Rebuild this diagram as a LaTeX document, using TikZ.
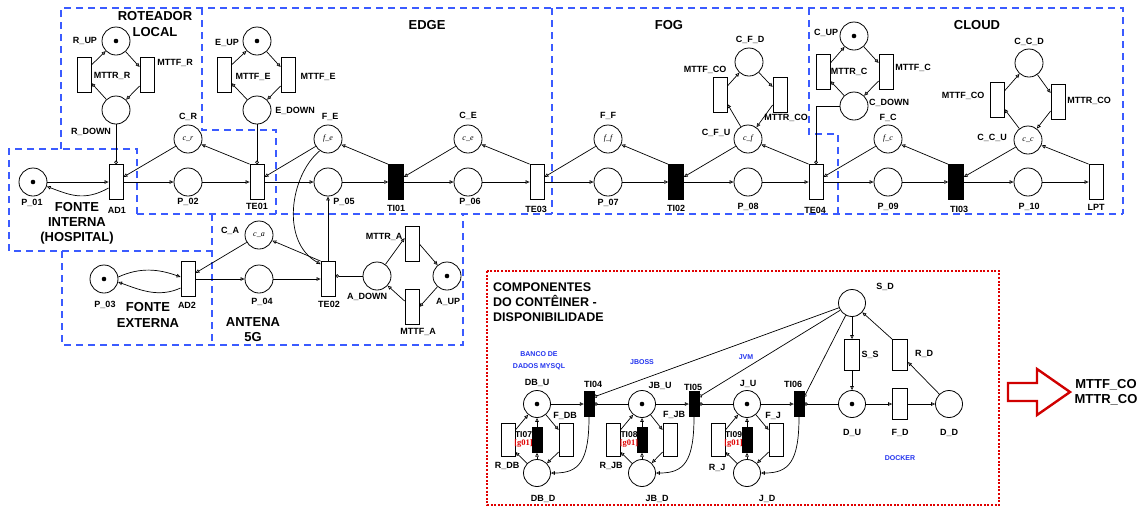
\documentclass[tikz,border=0pt]{standalone}
\usepackage{fontspec}
\setmainfont{Liberation Sans}
\newfontfamily\serifface{Liberation Serif}
\usetikzlibrary{arrows.meta,calc}
\definecolor{zoneblue}{HTML}{3B5BFF}
\definecolor{txtblue}{HTML}{2233EE}
\definecolor{boxred}{HTML}{E00000}
\definecolor{arrowred}{HTML}{D00000}
\begin{document}
\begin{tikzpicture}[x=1pt,y=-1pt,
 every node/.style={inner sep=0pt},
 place/.style={circle,draw,line width=0.8pt,minimum size=28pt},
 cplace/.style={circle,draw,line width=0.8pt,minimum size=27pt},
 trans/.style={rectangle,draw,line width=0.8pt,minimum width=14pt,minimum height=35pt},
 itrans/.style={rectangle,draw,fill=black,minimum width=15pt,minimum height=35pt},
 ctrans/.style={rectangle,draw,fill=black,minimum width=10pt,minimum height=25pt},
 crect/.style={rectangle,draw,line width=0.8pt,minimum width=14pt,minimum height=33pt},
 lbl/.style={font=\fontsize{9}{10}\selectfont\bfseries},
 ttl/.style={font=\fontsize{13}{15.5}\selectfont\bfseries,align=center},
 inner/.style={font=\serifface\itshape\fontsize{8}{9}\selectfont},
 blu/.style={font=\fontsize{7}{12}\selectfont\bfseries,text=txtblue,align=center},
 grd/.style={font=\serifface\bfseries\fontsize{8.5}{9}\selectfont,text=boxred},
 arc/.style={line width=0.7pt,-{Triangle[open,length=4pt,width=3.5pt]}},
 inh/.style={line width=0.7pt,-{Circle[open,length=3.5pt]}},
 zone/.style={draw=zoneblue,line width=1.5pt,dash pattern=on 7pt off 5pt},
]
\useasboundingbox (0,0) rectangle (1142,507);

% ---------------- zones ----------------
\draw[zone] (61,149) -- (61,8) -- (1123,8) -- (1123,214);
\draw[zone] (202,8) -- (202,130) -- (276,130) -- (276,214);
\draw[zone] (552,8) -- (552,214);
\draw[zone] (809,8) -- (809,134) -- (838,134) -- (838,214);
\draw[zone] (137,214) -- (137,149) -- (9,149) -- (9,251) -- (212,251);
\draw[zone] (137,214) -- (1123,214);
\draw[zone] (212,214) -- (212,345);
\draw[zone] (62,251) -- (62,345) -- (463,345) -- (463,214);
\draw[draw=boxred,line width=2pt,dash pattern=on 2pt off 1.6pt] (487,271) rectangle (999,505);

% ---------------- main row ----------------
\node[place] (P01) at (33,182) {};
\node[trans] (AD1) at (116,182) {};
\node[place] (P02) at (188,182) {};
\node[trans] (TE01) at (257,182) {};
\node[place,inner] (CR) at (188,139) {c\_r};
\node[place] (RUP) at (116,41) {};
\node[place] (RDOWN) at (116,110) {};
\node[trans] (MTTRR) at (84,75) {};
\node[trans] (MTTFR) at (147,75) {};
\node[place] (EUP) at (257,41) {};
\node[place] (EDOWN) at (257,110) {};
\node[trans] (MTTRE) at (224,75) {};
\node[trans] (MTTFE) at (288,75) {};
\node[place,inner] (FE) at (328,139) {f\_e};
\node[place] (P05) at (328,182) {};
\node[itrans] (TI01) at (396,182) {};
\node[place,inner] (CE) at (468,139) {c\_e};
\node[place] (P06) at (468,182) {};
\node[trans] (TE03) at (537,182) {};
\node[place] (P07) at (608,182) {};
\node[place,inner] (FF) at (608,139) {f\_f};
\node[itrans] (TI02) at (676,182) {};
\node[place] (P08) at (748,182) {};
\node[place,inner] (CFU) at (748,139) {c\_f};
\node[place] (CFD) at (749,62) {};
\node[trans] (MTTFCO1) at (720,95) {};
\node[trans] (MTTRCO1) at (780,95) {};
\node[trans] (TE04) at (816,182) {};
\node[place] (CUP) at (854,36) {};
\node[place] (CDOWN) at (854,106) {};
\node[trans] (MTTRC) at (823,72) {};
\node[trans] (MTTFC) at (886,72) {};
\node[place,inner] (FC) at (888,139) {f\_c};
\node[place] (P09) at (888,182) {};
\node[itrans] (TI03) at (956,182) {};
\node[place] (P10) at (1028,182) {};
\node[place,inner] (CCU) at (1028,140) {c\_c};
\node[place] (CCD) at (1029,63) {};
\node[trans] (MTTFCO2) at (997,100) {};
\node[trans] (MTTRCO2) at (1058,102) {};
\node[trans] (LPT) at (1096,182) {};

% ---------------- lower-left ----------------
\node[place] (P03) at (104,279) {};
\node[trans] (AD2) at (188,279) {};
\node[place] (P04) at (259,279) {};
\node[place,inner] (CA) at (259,235) {c\_a};
\node[trans] (TE02) at (328,279) {};
\node[place] (ADOWN) at (377,276) {};
\node[place] (AUP) at (447,276) {};
\node[trans] (MTTRA) at (412,244) {};
\node[trans] (MTTFA) at (412,307) {};

% ---------------- container ----------------
\node[cplace] (DBU) at (537,404) {};
\node[cplace] (DBD) at (537,473) {};
\node[crect] (RDB) at (508,440) {};
\node[crect] (FDB) at (566,440) {};
\node[ctrans] (TI07) at (537,440) {};
\node[ctrans] (TI04) at (589,404) {};
\node[cplace] (JBU) at (642,404) {};
\node[cplace] (JBD) at (642,473) {};
\node[crect] (RJB) at (613,440) {};
\node[crect] (FJB) at (670,440) {};
\node[ctrans] (TI08) at (642,440) {};
\node[ctrans] (TI05) at (694,404) {};
\node[cplace] (JU) at (747,404) {};
\node[cplace] (JD) at (747,473) {};
\node[crect] (RJ) at (718,440) {};
\node[crect] (FJ) at (776,440) {};
\node[ctrans] (TI09) at (747,440) {};
\node[ctrans] (TI06) at (799,404) {};
\node[cplace] (DU) at (852,404) {};
\node[crect,minimum width=15pt,minimum height=31pt] (FD) at (900,404) {};
\node[cplace] (DD) at (949,404) {};
\node[cplace] (SD) at (852,303) {};
\node[crect,minimum width=15pt,minimum height=31pt] (SS) at (852,355) {};
\node[crect,minimum width=15pt,minimum height=31pt] (RD) at (900,355) {};

% tokens
\foreach \n in {P01,RUP,EUP,CUP,P03,AUP,DBU,JBU,JU,DU} \fill (\n) circle (2.3);

% ---------------- arcs: top ----------------
\draw[arc] (RUP) -- ($(MTTFR.west)+(0,-8)$);
\draw[arc] ($(MTTFR.west)+(0,11)$) -- (RDOWN);
\draw[arc] (RDOWN) -- ($(MTTRR.east)+(0,8)$);
\draw[arc] ($(MTTRR.east)+(0,-10)$) -- (RUP);
\draw[arc] (EUP) -- ($(MTTFE.west)+(0,-8)$);
\draw[arc] ($(MTTFE.west)+(0,11)$) -- (EDOWN);
\draw[arc] (EDOWN) -- ($(MTTRE.east)+(0,8)$);
\draw[arc] ($(MTTRE.east)+(0,-10)$) -- (EUP);
\draw[inh] (RDOWN) -- (AD1);
\draw[inh] (EDOWN) -- (TE01);
\draw[inh] (CDOWN.west) -| (TE04.north);

\draw[arc] (P01) -- (AD1);
\draw[arc] ($(AD1.west)+(0,6)$) .. controls +(-25,14) and +(22,8) .. (P01.-18);
\draw[arc] (AD1) -- (P02);
\draw[arc] (P02) -- (TE01);
\draw[arc] (CR) -- ($(AD1.east)+(0,-5)$);
\draw[arc] (TE01.north west) -- (CR);
\draw[arc] (TE01) -- (P05);
\draw[arc] (FE) -- ($(TE01.east)+(0,-5)$);
\draw[arc] (P05) -- (TI01);
\draw[arc] (TI01.north west) -- (FE);
\draw[arc] (CE) -- ($(TI01.east)+(0,-5)$);
\draw[arc] (TI01) -- (P06);
\draw[arc] (P06) -- (TE03);
\draw[arc] (TE03.north west) -- (CE);
\draw[arc] (TE03) -- (P07);
\draw[arc] (FF) -- ($(TE03.east)+(0,-5)$);
\draw[arc] (P07) -- (TI02);
\draw[arc] (TI02.north west) -- (FF);
\draw[arc] (CFU) -- ($(TI02.east)+(0,-5)$);
\draw[arc] (TI02) -- (P08);
\draw[arc] (P08) -- (TE04);
\draw[arc] (TE04.north west) -- (CFU);
\draw[arc] (TE04) -- (P09);
\draw[arc] (FC) -- ($(TE04.east)+(0,-5)$);
\draw[arc] (P09) -- (TI03);
\draw[arc] (TI03.north west) -- (FC);
\draw[arc] (CCU) -- ($(TI03.east)+(0,-5)$);
\draw[arc] (TI03) -- (P10);
\draw[arc] (P10) -- (LPT);
\draw[arc] (LPT.north west) -- (CCU);

\draw[arc] (CFU) -- ($(MTTFCO1.east)+(0,9)$);
\draw[arc] ($(MTTFCO1.east)+(0,-9)$) -- (CFD);
\draw[arc] (CFD) -- ($(MTTRCO1.west)+(0,-8)$);
\draw[arc] ($(MTTRCO1.west)+(0,10)$) -- (CFU);
\draw[arc] (CUP) -- ($(MTTFC.west)+(0,-9)$);
\draw[arc] ($(MTTFC.west)+(0,9)$) -- (CDOWN);
\draw[arc] (CDOWN) -- ($(MTTRC.east)+(0,9)$);
\draw[arc] ($(MTTRC.east)+(0,-9)$) -- (CUP);
\draw[arc] (CCU) -- ($(MTTFCO2.east)+(0,9)$);
\draw[arc] ($(MTTFCO2.east)+(0,-9)$) -- (CCD);
\draw[arc] (CCD) -- ($(MTTRCO2.west)+(0,-9)$);
\draw[arc] ($(MTTRCO2.west)+(0,9)$) -- (CCU);

% ---------------- arcs: lower-left ----------------
\draw[arc] (P03.8) .. controls +(22,-10) and +(-22,-8) .. ($(AD2.west)+(0,-2)$);
\draw[arc] ($(AD2.west)+(0,9)$) .. controls +(-22,10) and +(22,8) .. (P03.-12);
\draw[arc] (AD2) -- (P04);
\draw[arc] (CA) -- ($(AD2.east)+(0,-6)$);
\draw[arc] (P04) -- (TE02);
\draw[arc] (TE02.north west) -- (CA);
\draw[arc] (TE02) -- (P05);
\draw[arc] (FE.235) .. controls +(-30,25) and +(-40,-22) .. ($(TE02.north west)+(0,3)$);
\draw[inh] (ADOWN) -- (ADOWN -| TE02.east);
\draw[arc] (ADOWN) -- ($(MTTRA.west)+(0,-6)$);
\draw[arc] (MTTRA.east) -- (AUP);
\draw[arc] (AUP) -- (MTTFA.east);
\draw[arc] ($(MTTFA.west)+(0,-6)$) -- (ADOWN);

% ---------------- arcs: container ----------------
\draw[arc] (DBU) -- (TI04);
\draw[inh] (JBU) -- (TI04);
\draw[inh] (SD) -- ($(TI04.north east)+(0,5.5)$);
\draw[arc] (TI04.south) .. controls +(0,45) and +(28,0) .. (DBD.east);
\draw[arc] (DBU) -- ($(FDB.west)+(0,-10)$);
\draw[arc] ($(FDB.west)+(0,12)$) -- (DBD);
\draw[arc] (DBD) -- ($(RDB.east)+(0,12)$);
\draw[arc] ($(RDB.east)+(0,-10)$) -- (DBU);
\draw[arc] (DBD) -- (TI07);
\draw[arc] (TI07) -- (DBU);

\draw[arc] (JBU) -- (TI05);
\draw[inh] (JU) -- (TI05);
\draw[inh] (SD) -- ($(TI05.north east)+(0,5.5)$);
\draw[arc] (TI05.south) .. controls +(0,45) and +(28,0) .. (JBD.east);
\draw[arc] (JBU) -- ($(FJB.west)+(0,-10)$);
\draw[arc] ($(FJB.west)+(0,12)$) -- (JBD);
\draw[arc] (JBD) -- ($(RJB.east)+(0,12)$);
\draw[arc] ($(RJB.east)+(0,-10)$) -- (JBU);
\draw[arc] (JBD) -- (TI08);
\draw[arc] (TI08) -- (JBU);

\draw[arc] (JU) -- (TI06);
\draw[inh] (DU) -- (TI06);
\draw[inh] (SD) -- ($(TI06.north east)+(0,5.5)$);
\draw[arc] (TI06.south) .. controls +(0,45) and +(28,0) .. (JD.east);
\draw[arc] (JU) -- ($(FJ.west)+(0,-10)$);
\draw[arc] ($(FJ.west)+(0,12)$) -- (JD);
\draw[arc] (JD) -- ($(RJ.east)+(0,12)$);
\draw[arc] ($(RJ.east)+(0,-10)$) -- (JU);
\draw[arc] (JD) -- (TI09);
\draw[arc] (TI09) -- (JU);

\draw[arc] (SD) -- (SS);
\draw[arc] (SS) -- (DU);
\draw[arc] (DU) -- (FD);
\draw[arc] (FD) -- (DD);
\draw[arc] (DD) -- ($(RD.east)+(0,7)$);
\draw[arc] (RD.north west) -- (SD);

% big arrow
\draw[draw=arrowred,line width=2.4pt,line join=miter] (1008,383) -- (1037,383) -- (1037,369) -- (1070,392) -- (1037,415) -- (1037,401) -- (1008,401) -- cycle;

% ---------------- labels ----------------
\node[ttl] (tRot) at (155,24) {ROTEADOR\\LOCAL};
\node[ttl] (tEdge) at (427,25) {EDGE};
\node[ttl] (tFog) at (669,25) {FOG};
\node[ttl] (tCloud) at (977,25) {CLOUD};
\node[ttl,font=\fontsize{13}{15}\selectfont\bfseries] (tFI) at (77,223) {FONTE\\INTERNA\\(HOSPITAL)};
\node[ttl] (tFE) at (148,315) {FONTE\\EXTERNA};
\node[ttl,font=\fontsize{13}{15}\selectfont\bfseries] (tAnt) at (253,330) {ANTENA\\5G};
\node[ttl,font=\fontsize{12.5}{15}\selectfont\bfseries,align=left,anchor=west] (tComp) at (493,302) {COMPONENTES\\DO CONTÊINER -\\DISPONIBILIDADE};
\node[ttl,font=\fontsize{13}{15}\selectfont\bfseries] (tOut) at (1106,392) {MTTF\_CO\\MTTR\_CO};

\node[lbl] (l1) at (32,203) {P\_01};
\node[lbl] (l2) at (117,210) {AD1};
\node[lbl] (l3) at (188,202) {P\_02};
\node[lbl] (l4) at (257,206) {TE01};
\node[lbl] (l5) at (188,117) {C\_R};
\node[lbl] (l6) at (85,41) {R\_UP};
\node[lbl] (l7) at (112,76) {MTTR\_R};
\node[lbl] (l8) at (175,63) {MTTF\_R};
\node[lbl] (l9) at (91,132) {R\_DOWN};
\node[lbl] (l10) at (227,43) {E\_UP};
\node[lbl] (l11) at (253,77) {MTTF\_E};
\node[lbl] (l12) at (318,77) {MTTF\_E};
\node[lbl] (l13) at (295,111) {E\_DOWN};
\node[lbl] (l14) at (330,117) {F\_E};
\node[lbl] (l15) at (344,202) {P\_05};
\node[lbl] (l16) at (396,208) {TI01};
\node[lbl] (l17) at (468,116) {C\_E};
\node[lbl] (l18) at (470,202) {P\_06};
\node[lbl] (l19) at (536,209) {TE03};
\node[lbl] (l20) at (608,116) {F\_F};
\node[lbl] (l21) at (608,203) {P\_07};
\node[lbl] (l22) at (676,208) {TI02};
\node[lbl] (l23) at (748,207) {P\_08};
\node[lbl] (l24) at (716,133) {C\_F\_U};
\node[lbl] (l25) at (750,40) {C\_F\_D};
\node[lbl] (l26) at (705,70) {MTTF\_CO};
\node[lbl] (l27) at (786,118) {MTTR\_CO};
\node[lbl] (l28) at (815,210) {TE04};
\node[lbl] (l29) at (826,33) {C\_UP};
\node[lbl] (l30) at (849,72) {MTTR\_C};
\node[lbl] (l31) at (913,68) {MTTF\_C};
\node[lbl] (l32) at (889,103) {C\_DOWN};
\node[lbl] (l33) at (888,118) {F\_C};
\node[lbl] (l34) at (888,207) {P\_09};
\node[lbl] (l35) at (959,209) {TI03};
\node[lbl] (l36) at (1029,207) {P\_10};
\node[lbl] (l37) at (992,138) {C\_C\_U};
\node[lbl] (l38) at (1029,42) {C\_C\_D};
\node[lbl] (l39) at (963,96) {MTTF\_CO};
\node[lbl] (l40) at (1089,101) {MTTR\_CO};
\node[lbl] (l41) at (1096,207) {LPT};

\node[lbl] (l42) at (230,231) {C\_A};
\node[lbl] (l43) at (105,305) {P\_03};
\node[lbl] (l44) at (187,305) {AD2};
\node[lbl] (l45) at (262,302) {P\_04};
\node[lbl] (l46) at (329,304) {TE02};
\node[lbl] (l47) at (367,297) {A\_DOWN};
\node[lbl] (l48) at (448,302) {A\_UP};
\node[lbl] (l49) at (384,237) {MTTR\_A};
\node[lbl] (l50) at (418,332) {MTTF\_A};

\node[blu] (b1) at (539,361) {BANCO DE\\DADOS MYSQL};
\node[blu] (b2) at (642,362) {JBOSS};
\node[blu] (b3) at (746,357) {JVM};
\node[blu] (b4) at (900,458) {DOCKER};

\node[lbl] (c1) at (537,383) {DB\_U};
\node[lbl] (c2) at (543,499) {DB\_D};
\node[lbl] (c3) at (507,466) {R\_DB};
\node[lbl] (c4) at (565,416) {F\_DB};
\node[lbl,font=\fontsize{8.5}{9}\selectfont\bfseries] (c5) at (523.5,435) {TI07};
\node[grd] (c6) at (523.5,443.5) {[g01]};
\node[lbl] (c7) at (593,384) {TI04};
\node[lbl] (c8) at (660,386) {JB\_U};
\node[lbl] (c9) at (657,499) {JB\_D};
\node[lbl] (c10) at (611,466) {R\_JB};
\node[lbl] (c11) at (674,415) {F\_JB};
\node[lbl,font=\fontsize{8.5}{9}\selectfont\bfseries] (c12) at (629,435) {TI08};
\node[grd] (c13) at (629,443.5) {[g01]};
\node[lbl] (c14) at (693,387) {TI05};
\node[lbl] (c15) at (748,384) {J\_U};
\node[lbl] (c16) at (767,499) {J\_D};
\node[lbl] (c17) at (717,468) {R\_J};
\node[lbl] (c18) at (773,416) {F\_J};
\node[lbl,font=\fontsize{8.5}{9}\selectfont\bfseries] (c19) at (733.5,435) {TI09};
\node[grd] (c20) at (733.5,443.5) {[g01]};
\node[lbl] (c21) at (793,384) {TI06};
\node[lbl] (c22) at (852,433) {D\_U};
\node[lbl] (c23) at (900,433) {F\_D};
\node[lbl] (c24) at (949,433) {D\_D};
\node[lbl] (c25) at (885,287) {S\_D};
\node[lbl] (c26) at (870,355) {S\_S};
\node[lbl] (c27) at (924,354) {R\_D};
\end{tikzpicture}
\end{document}
